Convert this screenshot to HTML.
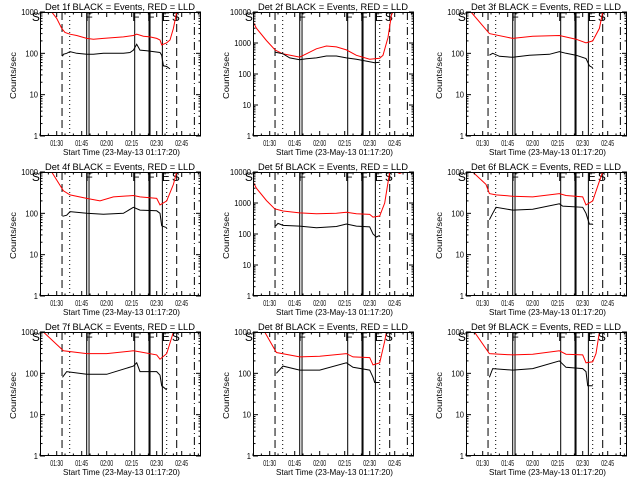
<!DOCTYPE html>
<html><head><meta charset="utf-8"><style>
html,body{margin:0;padding:0;background:#fff}
svg{display:block}
text{font-family:"Liberation Sans",sans-serif;fill:#000}
</style></head><body>
<svg id="c" width="640" height="480" viewBox="0 0 640 480"></svg>
<script>
// ---- data (time in minutes after 01:30, value in counts/sec) ----
const detNames = ["1f","2f","3f","4f","5f","6f","7f","8f","9f"];
const yMaxes = [1000,10000,1000,1000,10000,1000,1000,1000,1000];
const red1T=[-3,0,3,5,8,12,18,22,28,34,40,46,48,52,56,60,62,63,66,68,70,72];
const red1V=[1000,700,400,320,290,270,230,220,230,240,250,270,290,260,250,230,210,160,180,210,400,1000];
const blk1T=[3.5,4,6,8,12,18,22,28,34,40,44,46,48,50,54,58,62,63,64,66,68];
const blk1V=[85,95,100,110,100,95,95,100,100,100,105,120,165,120,115,110,105,90,50,48,42];
const red2T=[-13,-8,-2,3.2,7.8,18,22,28,34,40,46,52,60,66,68,71,73,74];
const red2V=[10000,3000,1200,600,450,350,450,650,800,750,600,400,300,320,400,1500,8000,10000];
const blk2T=[3.5,8,12,18,22,28,34,40,46,52,58,63,66];
const blk2V=[500,450,330,290,310,330,380,380,330,300,260,230,240];
const red3T=[-13,-7,4,18,30,46,56,62,66,70,72];
const red3V=[1000,1000,300,230,260,270,220,180,200,400,1000];
const blk3T=[4,6,10,18,28,40,46,50,56,62,64,66];
const blk3V=[90,100,85,80,90,95,110,100,90,75,50,45];
const red4T=[-3,4,8,18,26,34,46,50,60,62,66,70,72];
const red4V=[1000,350,280,230,200,250,270,250,230,160,200,500,1000];
const blk4T=[3.5,6,8,18,28,40,46,50,60,62,63,66];
const blk4V=[85,90,110,100,95,100,140,120,115,100,50,45];
const red5T=[-13,-8,-2,3,8,18,28,40,46,52,60,62,66,69,72,76,78,80];
const red5V=[10000,3000,1200,650,550,480,450,470,500,450,430,350,380,1000,10000,10000,9000,10000];
const blk5T=[3.5,5,8,18,28,40,46,52,60,62,64,66];
const blk5V=[180,220,190,180,160,175,210,180,170,100,80,90];
const red6T=[-6,2,4,8,18,30,46,50,60,62,66,70,72];
const red6V=[1000,500,300,280,260,250,300,270,250,160,200,600,1000];
const blk6T=[4,6,8,18,30,46,48,60,62,64,66];
const blk6V=[70,100,140,120,125,170,150,140,100,55,55];
const red7T=[-8,4,18,30,46,50,60,62,66,70];
const red7V=[1000,350,300,300,350,330,280,220,300,1000];
const blk7T=[3.5,6,18,30,46,48,50,60,62,63,66];
const blk7V=[80,110,95,95,150,180,110,110,90,50,40];
const red8T=[-3,4,18,30,46,50,60,62,66,69,70];
const red8V=[1000,320,250,260,300,250,240,160,180,600,1000];
const blk8T=[4,8,18,30,46,50,60,62,63,66];
const blk8V=[100,150,120,120,180,140,120,80,60,60];
const red9T=[-5,4,18,30,46,50,60,62,66,68,70];
const red9V=[1000,300,280,290,350,290,280,180,190,300,1000];
const blk9T=[4,6,18,30,46,50,60,62,63,66];
const blk9V=[80,130,120,130,200,140,130,110,50,50];
const redT=[red1T,red2T,red3T,red4T,red5T,red6T,red7T,red8T,red9T];
const redV=[red1V,red2V,red3V,red4V,red5V,red6V,red7V,red8V,red9V];
const blkT=[blk1T,blk2T,blk3T,blk4T,blk5T,blk6T,blk7T,blk8T,blk9T];
const blkV=[blk1V,blk2V,blk3V,blk4V,blk5V,blk6V,blk7V,blk8V,blk9V];
const xTickMin=[0,15,30,45,60,75];
const xTickLabels=["01:30","01:45","02:00","02:15","02:30","02:45"];
const vlineT=[3.2,7.8,18,19.4,46.8,55.4,56,63.4,66,72,82.6];
const vlineStyle=["dash","dot","solid","solid","solid","solid","solid","solid","dot","dash","dashdot"];
const markT=[-12.5,19.5,47.5,56.5,65.5,71.5];
const markL=["S","F","F","F","E","S"];

const NS="http://www.w3.org/2000/svg";
const svg=document.getElementById('c');
function mk(tag,attrs,parent){const e=document.createElementNS(NS,tag);for(const k in attrs)e.setAttribute(k,attrs[k]);(parent||svg).appendChild(e);return e;}
const L=40,R=201,T=12,B=136;
for(let p=0;p<9;p++){
  const ox=(p%3)*213, oy=Math.floor(p/3)*160;
  const g=mk('g',{transform:`translate(${ox},${oy})`});
  
  
  const ymax=yMaxes[p], dec=Math.log10(ymax);
  const xs=m=>56.7+m*25/15;
  const ys=v=>B-(Math.log10(Math.max(v,1))/dec)*(B-T);
  const clipId='clip'+p;
  const cp=mk('clipPath',{id:clipId},g); mk('rect',{x:L,y:T,width:R-L,height:B-T},cp);
  const t=mk('text',{x:45,y:10,'font-size':'9',textLength:150,lengthAdjust:'spacingAndGlyphs'},g);
  t.textContent='Det '+detNames[p]+' BLACK = Events, RED = LLD';
  
  
  vlineT.forEach((m,i)=>{
    const st=vlineStyle[i]; const x=xs(m);
    const a={x1:x,x2:x,y1:T,y2:B,stroke:'#000','stroke-width':1};
    if(st==='dash')a['stroke-dasharray']='8,4';
    if(st==='dot')a['stroke-dasharray']='1,3';
    if(st==='dashdot')a['stroke-dasharray']='8,3,1,3';
    const l=mk('line',a,g);
    
    
  });
  markT.forEach((m,i)=>{
    const tx=mk('text',{x:xs(m),y:T+9,'font-size':'12','text-anchor':'middle'},g);
    tx.textContent=markL[i];
    
    
  });
  const mkLine=(TT,VV,col,name)=>{
    const pts=TT.map((m,i)=>xs(m).toFixed(1)+','+ys(VV[i]).toFixed(1)).join(' ');
    const pl=mk('polyline',{points:pts,fill:'none',stroke:col,'stroke-width':1,'clip-path':`url(#${clipId})`},g);
    
    
  };
  mkLine(redT[p],redV[p],'#ff0000','lld-rate-line');
  mkLine(blkT[p],blkV[p],'#000','events-rate-line');
  const fr=mk('rect',{x:L+0.5,y:T+0.5,width:R-L-1,height:B-T-1,fill:'none',stroke:'#000','stroke-width':1},g);
  
  
  for(let d=0;d<=dec;d++){
    const v=Math.pow(10,d), y=ys(v);
    mk('line',{x1:L,x2:L+5,y1:y,y2:y,stroke:'#000'},g);
    mk('line',{x1:R-5,x2:R,y1:y,y2:y,stroke:'#000'},g);
    const s=String(v);
    const tl=mk('text',{x:L-2-s.length*4.2,y:y+3,'font-size':'8',textLength:s.length*4.2,lengthAdjust:'spacingAndGlyphs'},g);
    tl.textContent=s;
    
    
    if(d<dec)for(let k=2;k<10;k++){const yy=ys(v*k);
      mk('line',{x1:L,x2:L+2.5,y1:yy,y2:yy,stroke:'#000'},g);
      mk('line',{x1:R-2.5,x2:R,y1:yy,y2:yy,stroke:'#000'},g);}
  }
  for(let m=-10;m<=85;m+=5){const x=xs(m); if(x<L||x>R)continue;
    const major=(m%15===0);const len=major?5:2.5;
    mk('line',{x1:x,x2:x,y1:B,y2:B-len,stroke:'#000'},g);
    mk('line',{x1:x,x2:x,y1:T,y2:T+len,stroke:'#000'},g);}
  xTickMin.forEach((m,i)=>{
    const tl=mk('text',{x:xs(m)-6.5,y:146,'font-size':'8',textLength:13,lengthAdjust:'spacingAndGlyphs'},g);
    tl.textContent=xTickLabels[i];
    
    
  });
  const xl=mk('text',{x:63,y:155,'font-size':'8.5',textLength:117,lengthAdjust:'spacingAndGlyphs'},g);
  xl.textContent='Start Time (23-May-13 01:17:20)';
  
  
  const yl=mk('text',{x:0,y:0,'font-size':'8',textLength:47,lengthAdjust:'spacingAndGlyphs',transform:'translate(16,99) rotate(-90)'},g);
  yl.textContent='Counts/sec';
  
  
}
</script>
</body></html>
